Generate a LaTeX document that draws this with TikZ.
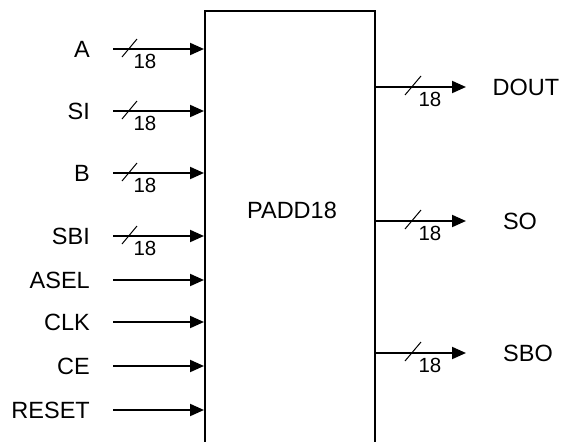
\documentclass[tikz,border=0pt]{standalone}
\usepackage{fontspec}
\setmainfont{Liberation Sans}
\usetikzlibrary{arrows.meta}
\begin{document}
\begin{tikzpicture}[x=1pt,y=-1pt,
  sig/.style={font=\fontsize{23.5}{27}\selectfont, inner sep=0pt},
  bw/.style={font=\fontsize{20.5}{24}\selectfont, inner sep=0pt},
  wire/.style={line width=2pt, -{Triangle[length=14pt,width=12pt]}},
  slash/.style={line width=1pt},
  blockbox/.style={draw, line width=2pt, rectangle, minimum width=170pt, minimum height=440pt, inner sep=0pt}]
\useasboundingbox (0,0) rectangle (563,442);
\node[blockbox] (blk) at (290,231) {};
\node[sig] (title) at (292,210) {PADD18};
% inputs
\foreach \n/\t/\y in {a/A/49, si/SI/111, b/B/173, sbi/SBI/236, asel/ASEL/280, clk/CLK/322, ce/CE/366, rst/RESET/410}{
  \node[sig, anchor=east] (l\n) at (90,\y) {\t};
  \coordinate (s\n) at (113,\y);
  \coordinate (e\n) at (blk.west |- s\n);
  \draw[wire] (s\n) -- (e\n);
}
\foreach \n/\y in {a/49, si/111, b/173, sbi/236}{
  \draw[slash] (122,\y+8) -- (137,\y-10);
  \node[bw] (w\n) at (145,\y+12) {18};
}
% outputs
\foreach \n/\t/\y/\lx in {dout/DOUT/87/526, so/SO/221/520, sbo/SBO/353/528}{
  \coordinate (o\n) at (blk.east |- 0,\y);
  \coordinate (t\n) at (466,\y);
  \draw[wire] (o\n) -- (t\n);
  \draw[slash] (405,\y+8) -- (421,\y-11);
  \node[bw] (w\n) at (430,\y+12) {18};
  \node[sig] (l\n) at (\lx,\y) {\t};
}
\end{tikzpicture}
\end{document}
